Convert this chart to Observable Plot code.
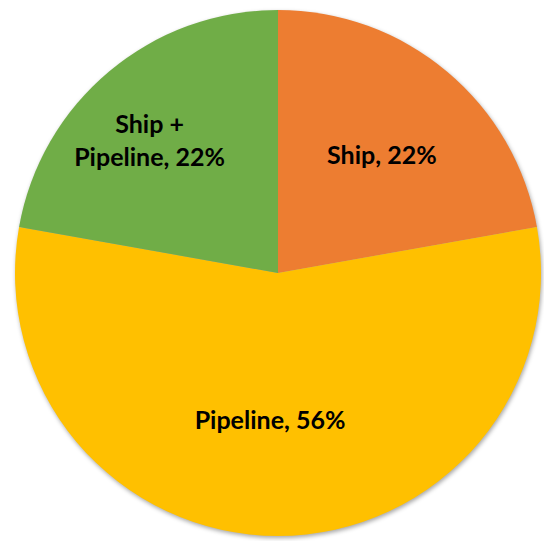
<!DOCTYPE html>
<html>
<head>
<meta charset="utf-8">
<script src="https://cdn.jsdelivr.net/npm/d3@7"></script>
<script src="https://cdn.jsdelivr.net/npm/@observablehq/plot@0.6"></script>
<style>
  html, body { margin: 0; padding: 0; background: #fff; }
  #chart svg { display: block; }
</style>
</head>
<body>
<div id="chart"></div>
<script>
// Data
const categories = ["Ship", "Pipeline", "Ship + Pipeline"];
const shares = [22.2, 55.6, 22.2];
const labels = ["Ship, 22%", "Pipeline, 56%", "Ship +\nPipeline, 22%"];

// Styling (not data)
const colors = ["#ED7D31", "#FFC000", "#70AD47"];
const labelRadius = [0.60, 0.555, 0.70];
const labelNudge = [[2, 1], [-8.5, -1], [-10.7, 7]]; // pixels

const W = 544, H = 541;
const R = 263, CX = 278, CY = 273; // layout of the pie in pixels

const arcs = d3.pie().sort(null).value(d => d)(shares);
const slices = arcs.map((a, i) => {
  const mid = (a.startAngle + a.endAngle) / 2;
  return {
    category: categories[i],
    share: shares[i],
    label: labels[i],
    startAngle: a.startAngle,
    endAngle: a.endAngle,
    lx: labelRadius[i] * Math.sin(mid) + labelNudge[i][0] / R,
    ly: labelRadius[i] * Math.cos(mid) - labelNudge[i][1] / R
  };
});

function pieMark(index, scales) {
  const x = scales.x, y = scales.y;
  const cx = x(0), cy = y(0), r = x(1) - x(0);
  const g = d3.create("svg:g").attr("transform", `translate(${cx},${cy})`)
    .style("filter", "drop-shadow(1px 2px 2px rgba(0,0,0,0.35))");
  const arc = d3.arc().innerRadius(0).outerRadius(r);
  g.selectAll("path").data(slices).join("path")
    .attr("d", d => arc({startAngle: d.startAngle, endAngle: d.endAngle}))
    .attr("fill", (d, i) => colors[i]);
  return g.node();
}

const chart = Plot.plot({
  width: W,
  height: H,
  margin: 0,
  x: {domain: [-CX / R, (W - CX) / R], axis: null},
  y: {domain: [-(H - CY) / R, CY / R], axis: null},
  marks: [
    pieMark,
    Plot.text(slices, {
      x: "lx", y: "ly", text: "label",
      fill: "#000", fontSize: 25, fontWeight: "bold",
      fontFamily: "Lato, 'Open Sans', sans-serif",
      lineHeight: 1.32
    })
  ]
});
document.getElementById("chart").appendChild(chart);
</script>
</body>
</html>
